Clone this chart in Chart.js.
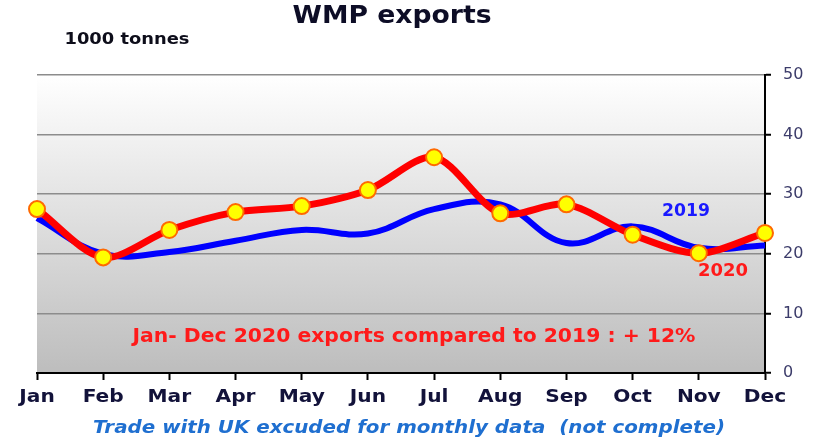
<!DOCTYPE html>
<html>
<head>
<meta charset="utf-8">
<script src="https://cdn.jsdelivr.net/npm/chart.js@4"></script>
<style>
  html, body { margin: 0; padding: 0; background: #fff; }
  #wrap { width: 817px; height: 443px; }
</style>
</head>
<body>
<div id="wrap"><canvas id="myChart" width="817" height="443"></canvas></div>
<script>
const months = ["Jan", "Feb", "Mar", "Apr", "May", "Jun", "Jul", "Aug", "Sep", "Oct", "Nov", "Dec"];
const exports2019 = [26.0, 20.0, 20.3, 22.2, 24.0, 23.4, 27.5, 28.3, 21.8, 24.6, 21.0, 21.4];
const exports2020 = [27.5, 19.4, 24.0, 27.0, 28.0, 30.7, 36.2, 26.8, 28.3, 23.2, 20.1, 23.5];
const yTicks = [0, 10, 20, 30, 40, 50];

// texte étiré horizontalement (le modèle est élargi)
function stretchText(ctx, text, x, y, width, font, color) {
  ctx.save();
  ctx.font = font;
  ctx.fillStyle = color;
  ctx.textAlign = "center";
  ctx.textBaseline = "middle";
  const w = ctx.measureText(text).width;
  ctx.translate(x, y);
  ctx.scale(width / w, 1);
  ctx.fillText(text, 0, 0);
  ctx.restore();
}

const decorPlugin = {
  id: "decor",
  beforeDraw(chart) {
    const { ctx, chartArea: a } = chart;
    const grad = ctx.createLinearGradient(0, a.top, 0, a.bottom);
    grad.addColorStop(0, "#ffffff");
    grad.addColorStop(1, "#bdbdbd");
    ctx.save();
    ctx.fillStyle = grad;
    ctx.fillRect(a.left, a.top, a.right - a.left, a.bottom - a.top);
    ctx.restore();
  },
  afterDraw(chart) {
    const { ctx } = chart;
    const xs = chart.scales.x;

    stretchText(ctx, "WMP exports", 392, 17, 199, "bold 24px 'DejaVu Sans'", "#0d0d26");
    stretchText(ctx, "1000 tonnes", 127, 40, 125, "bold 15px 'DejaVu Sans'", "#0d0d1a");

    // étiquettes des mois
    ctx.save();
    ctx.font = "bold 18px 'DejaVu Sans'";
    months.forEach(function (m, i) {
      const w = ctx.measureText(m).width * 1.12;
      stretchText(ctx, m, xs.getPixelForValue(i), 397, w, "bold 18px 'DejaVu Sans'", "#12123a");
    });
    ctx.restore();

    stretchText(ctx, "Jan- Dec 2020 exports compared to 2019 : + 12%", 414, 337, 563,
      "bold 20px 'DejaVu Sans'", "#ff1a1a");
    stretchText(ctx, "2019", 686, 212, 48, "bold 17px 'DejaVu Sans'", "#1a1aff");
    stretchText(ctx, "2020", 723, 272, 50, "bold 17px 'DejaVu Sans'", "#ff1a1a");
    stretchText(ctx, "Trade with UK excuded for monthly data  (not complete)", 409, 428, 632,
      "italic bold 18px 'DejaVu Sans'", "#1f6fd0");
  }
};

const ctx = document.getElementById("myChart");

new Chart(ctx, {
  type: "line",
  data: {
    labels: months,
    datasets: [
      {
        label: "2020",
        data: exports2020,
        borderColor: "#ff0000",
        borderWidth: 7,
        tension: 0.3,
        pointRadius: 8,
        pointBackgroundColor: "#ffff00",
        pointBorderColor: "#ff6a00",
        pointBorderWidth: 2,
        order: 1,
      },
      {
        label: "2019",
        data: exports2019,
        borderColor: "#0000ff",
        borderWidth: 6,
        tension: 0.4,
        pointRadius: 0,
        order: 2,
      },
    ],
  },
  options: {
    responsive: false,
    animation: false,
    layout: { padding: { left: 37, top: 75, right: 0, bottom: 0 } },
    plugins: {
      legend: { display: false },
      tooltip: { enabled: false },
    },
    scales: {
      x: {
        offset: false,
        afterFit(scale) { scale.height = 70; },
        grid: {
          drawOnChartArea: false,
          tickLength: 7,
          tickColor: "#000",
          tickWidth: 2,
        },
        border: { color: "#000", width: 2 },
        ticks: { display: false, autoSkip: false },
      },
      y: {
        position: "right",
        min: 0,
        max: 50,
        afterFit(scale) { scale.width = 52; },
        afterBuildTicks(scale) { scale.ticks = yTicks.map(v => ({ value: v })); },
        grid: {
          color: "#8c8c8c",
          lineWidth: 1.5,
          tickLength: 6,
          tickColor: "#000",
          tickWidth: 2,
        },
        border: { color: "#000", width: 2 },
        ticks: {
          color: "#3c3c6a",
          font: { family: "DejaVu Sans", size: 16 },
          padding: 12,
        },
      },
    },
  },
  plugins: [decorPlugin],
});
</script>
</body>
</html>
